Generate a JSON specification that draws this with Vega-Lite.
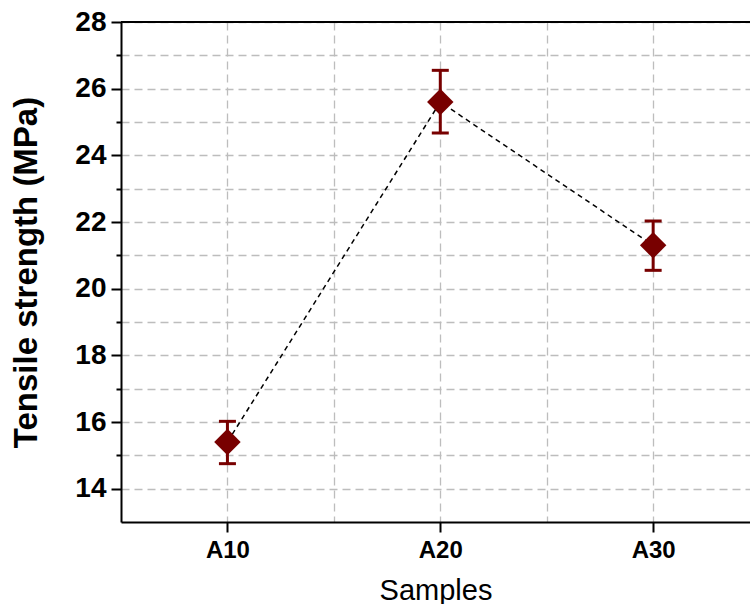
{
  "$schema": "https://vega.github.io/schema/vega-lite/v6.json",
  "width": 629,
  "height": 500,
  "autosize": {"type": "none"},
  "padding": {"left": 121, "top": 22, "right": 0, "bottom": 82},
  "background": "white",
  "config": {
    "view": {"stroke": null},
    "font": "Liberation Sans",
    "axis": {
      "domainColor": "black",
      "domainWidth": 2,
      "tickColor": "black",
      "tickWidth": 2,
      "labelColor": "black",
      "titleColor": "black",
      "gridColor": "#bdbdbd",
      "gridDash": [8, 5],
      "gridWidth": 1.3
    }
  },
  "data": {
    "values": [
      {"sample": "A10", "x": 1, "mean": 15.4, "lo": 14.75, "hi": 16.02},
      {"sample": "A20", "x": 2, "mean": 25.6, "lo": 24.67, "hi": 26.55},
      {"sample": "A30", "x": 3, "mean": 21.3, "lo": 20.55, "hi": 22.03}
    ]
  },
  "layer": [
    {
      "mark": {"type": "line", "color": "black", "strokeDash": [5, 4], "strokeWidth": 1.5},
      "encoding": {
        "x": {
          "field": "x", "type": "quantitative",
          "scale": {"domain": [0.5, 3.455], "nice": false, "zero": false},
          "axis": {
            "values": [1, 1.5, 2, 2.5, 3],
            "tickCount": 20,
            "labelExpr": "datum.value == 1 ? 'A10' : datum.value == 2 ? 'A20' : datum.value == 3 ? 'A30' : ''",
            "tickOpacity": {"condition": {"test": "datum.value == 1.5 || datum.value == 2.5", "value": 0}, "value": 1},
            "tickSize": 10,
            "labelFontSize": 24,
            "labelFontWeight": "bold",
            "labelPadding": 6,
            "title": "Samples",
            "titleFontSize": 29,
            "titleFontWeight": "normal",
            "titlePadding": 14
          }
        },
        "y": {
          "field": "mean", "type": "quantitative",
          "scale": {"domain": [13, 28], "nice": false, "zero": false},
          "axis": {
            "values": [14, 15, 16, 17, 18, 19, 20, 21, 22, 23, 24, 25, 26, 27, 28],
            "tickCount": 30,
            "format": "d",
            "labelExpr": "datum.value % 2 == 0 ? datum.label : ''",
            "tickSize": 10,
            "tickDash": {"condition": {"test": "datum.value % 2 == 1", "value": [5, 10]}, "value": []},
            "labelFontSize": 28,
            "labelFontWeight": "bold",
            "labelPadding": 5,
            "title": "Tensile strength (MPa)",
            "titleFontSize": 33,
            "titleFontWeight": "bold",
            "titlePadding": 31
          }
        }
      }
    },
    {
      "mark": {"type": "rule", "color": "#780000", "strokeWidth": 3},
      "encoding": {
        "x": {"field": "x", "type": "quantitative"},
        "y": {"field": "lo", "type": "quantitative"},
        "y2": {"field": "hi"}
      }
    },
    {
      "mark": {"type": "tick", "color": "#780000", "orient": "horizontal", "size": 17, "thickness": 3, "opacity": 1},
      "encoding": {
        "x": {"field": "x", "type": "quantitative"},
        "y": {"field": "lo", "type": "quantitative"}
      }
    },
    {
      "mark": {"type": "tick", "color": "#780000", "orient": "horizontal", "size": 17, "thickness": 3, "opacity": 1},
      "encoding": {
        "x": {"field": "x", "type": "quantitative"},
        "y": {"field": "hi", "type": "quantitative"}
      }
    },
    {
      "mark": {"type": "point", "shape": "diamond", "filled": true, "color": "#780000", "opacity": 1, "size": 700},
      "encoding": {
        "x": {"field": "x", "type": "quantitative"},
        "y": {"field": "mean", "type": "quantitative"}
      }
    },
    {
      "mark": {"type": "rule", "color": "black", "strokeWidth": 2},
      "encoding": {"y": {"datum": 28}}
    }
  ]
}
